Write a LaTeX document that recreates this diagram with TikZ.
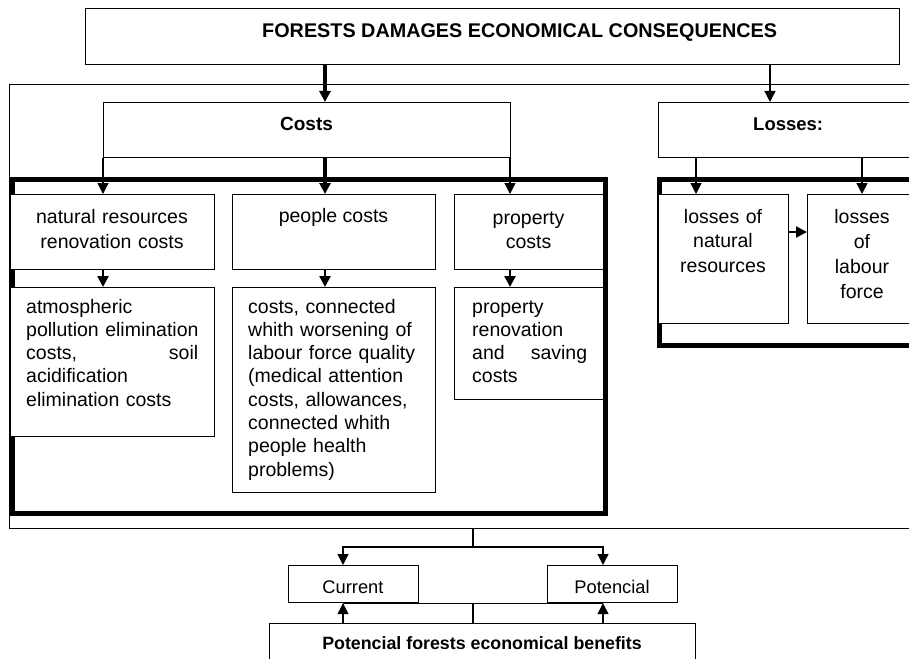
\documentclass[tikz,border=0pt]{standalone}
\usepackage{fontspec}
\setmainfont{Liberation Sans}
\usepackage{tikz}
\usetikzlibrary{arrows.meta}
\tikzset{%
  mybox/.style={draw=black, line width=1.2pt, fill=white, inner sep=0pt, anchor=north west},
  myframe/.style={draw=black, line width=5pt, inner sep=0pt, anchor=north west},
  myedge/.style={-{Triangle[length=11pt, width=11pt]}, line width=1.3pt},
  myline/.style={line width=1.2pt},
  bodytext/.style={inner sep=0pt, font=\fontsize{19.5}{23.3}\selectfont},
  headtext/.style={inner sep=0pt, font=\bfseries\fontsize{19}{23}\selectfont}
}

\begin{document}
\begin{tikzpicture}[x=1pt, y=-1pt]
\useasboundingbox (0,0) rectangle (909,658);
\clip (0,0) rectangle (909,658);

% columns of the connectors
\foreach \n/\x in {cA/103, cB/325, cC/510, cL/770, lA/696, lB/862, bA/343, bB/603, bM/473} {
  \coordinate (\n) at (\x, 0);
}
\coordinate (rL) at (0, 232);
\coordinate (bH) at (0, 547);

% frames
\node (outer) [mybox, minimum width=930pt, minimum height=444pt] at (9,84) {};
\node (cfr) [myframe, minimum width=593pt, minimum height=334pt] at (10,177) {};
\node (lfr) [myframe, minimum width=300pt, minimum height=166pt] at (657,177) {};

% boxes
\node (top)   [mybox, minimum width=814pt, minimum height=56pt]  at (85,8) {};
\node (costs) [mybox, minimum width=407pt, minimum height=55pt]  at (103,102) {};
\node (loss)  [mybox, minimum width=300pt, minimum height=55pt]  at (658,102) {};
\node (nat)   [mybox, minimum width=204pt, minimum height=75pt]  at (10,194) {};
\node (ppl)   [mybox, minimum width=203pt, minimum height=75pt]  at (232,194) {};
\node (prop)  [mybox, minimum width=149pt, minimum height=75pt]  at (454,194) {};
\node (natx)  [mybox, minimum width=204pt, minimum height=149pt] at (10,287) {};
\node (pplx)  [mybox, minimum width=203pt, minimum height=205pt] at (232,287) {};
\node (propx) [mybox, minimum width=149pt, minimum height=112pt] at (454,287) {};
\node (lnat)  [mybox, minimum width=130pt, minimum height=129pt] at (658,194) {};
\node (llab)  [mybox, minimum width=110pt, minimum height=129pt] at (807,194) {};
\node (cur)   [mybox, minimum width=130pt, minimum height=37pt]  at (288,565) {};
\node (pot)   [mybox, minimum width=130pt, minimum height=37pt]  at (547,565) {};
\node (ben)   [mybox, minimum width=426pt, minimum height=60pt]  at (269,623) {};

% texts
\node (topT) [headtext, anchor=base west, font=\bfseries\fontsize{19.8}{24}\selectfont] at (262,38)
  {FORESTS DAMAGES ECONOMICAL CONSEQUENCES};
\node (costsT) [headtext, anchor=base] at (306.5,130) {Costs};
\node (lossT) [headtext, anchor=base west, font=\bfseries\fontsize{18.5}{23}\selectfont] at (753,131) {Losses:};

\node (natT) [bodytext, anchor=base, text width=200pt, align=center,
  font=\fontsize{19.5}{25}\selectfont] at (112,223.5) {natural resources\\renovation costs};
\node (pplT) [bodytext, anchor=base] at (333.5,222) {people costs};
\node (propT) [bodytext, anchor=base, text width=140pt, align=center,
  font=\fontsize{19.5}{24}\selectfont] at (528.5,224) {property\\costs};

\node (natxT) [bodytext, anchor=base west, text width=186pt, align=left] at (26,313)
  {atmospheric\\pollution elimination\\\makebox[172pt][s]{costs,\hfill soil}\\acidification\\elimination costs};
\node (pplxT) [bodytext, anchor=base west, text width=180pt, align=left] at (248,313)
  {costs, connected\\whith worsening of\\labour force quality\\(medical attention\\costs, allowances,\\connected whith\\people health\\problems)};
\node (propxT) [bodytext, anchor=base west, text width=125pt, align=left] at (472,313)
  {property\\renovation\\\makebox[115pt][s]{and\hfill saving}\\costs};

\node (lnatT) [bodytext, anchor=base, text width=125pt, align=center,
  font=\fontsize{19.5}{24.5}\selectfont] at (723,223) {losses of\\natural\\resources};
\node (llabT) [bodytext, anchor=base, text width=100pt, align=center,
  font=\fontsize{19.5}{25}\selectfont] at (862,223) {losses\\of\\labour\\force};

\node (curT) [bodytext, anchor=base, font=\fontsize{18.3}{22}\selectfont] at (353,593) {Current};
\node (potT) [bodytext, anchor=base, font=\fontsize{18.3}{22}\selectfont] at (612,593) {Potencial};
\node (benT) [headtext, anchor=base, font=\bfseries\fontsize{17.8}{22}\selectfont] at (482,649)
  {Potencial forests economical benefits};

% connectors
\draw [myedge, line width=4pt] (top.south -| cB) -- (costs.north -| cB);
\draw [myedge] (top.south -| cL) -- (loss.north -| cL);

\draw [myedge] (costs.south -| cA) -- (nat.north -| cA);
\draw [myedge, line width=4pt] (costs.south -| cB) -- (ppl.north -| cB);
\draw [myedge] (costs.south -| cC) -- (prop.north -| cC);

\foreach \a/\b/\c in {nat/natx/cA, ppl/pplx/cB, prop/propx/cC} {
  \draw [myedge, line width=2.5pt] (\a.south -| \c) -- (\b.north -| \c);
}

\draw [myedge, line width=1.6pt] (loss.south -| lA) -- (lnat.north -| lA);
\draw [myedge, line width=1.6pt] (loss.south -| lB) -- (llab.north -| lB);
\draw [myedge, line width=2pt] (lnat.east |- rL) -- (llab.west |- rL);

\draw [myline] (outer.south -| bM) -- (bH -| bM);
\draw [myedge] (bH -| bM) -| (cur.north -| bA);
\draw [myedge] (bH -| bM) -| (pot.north -| bB);

\draw [myline] (ben.north -| bM) -- (cur.south -| bM);
\draw [myline] (cur.south -| bA) -- (pot.south -| bB);
\draw [myedge] (ben.north -| bA) -- (cur.south -| bA);
\draw [myedge] (ben.north -| bB) -- (pot.south -| bB);
\end{tikzpicture}
\end{document}
